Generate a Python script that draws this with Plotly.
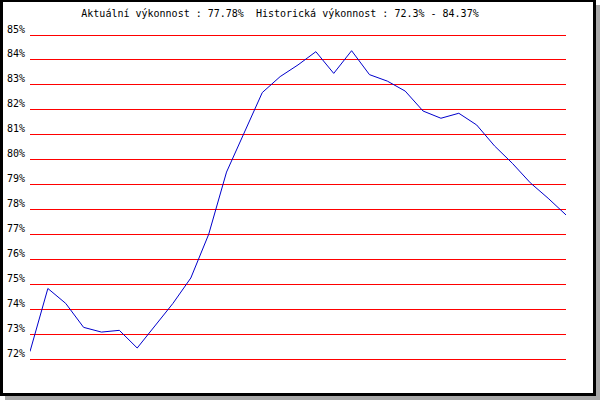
import plotly.graph_objects as go

# ---- data ----
periods = list(range(31))
performance = [72.3, 74.83, 74.23, 73.27, 73.08, 73.15, 72.44, 73.35, 74.23, 75.25,
               77.0, 79.5, 81.11, 82.69, 83.33, 83.8, 84.33, 83.46, 84.37, 83.41,
               83.15, 82.75, 81.95, 81.66, 81.86, 81.39, 80.55, 79.85, 79.07, 78.45,
               77.78]
y_ticks = [72, 73, 74, 75, 76, 77, 78, 79, 80, 81, 82, 83, 84, 85]
title_text = "Aktuální výkonnost : 77.78%  Historická výkonnost : 72.3% - 84.37%"

# ---- layout geometry (pixels) ----
W, H = 600, 400
L, R = 30, 566          # plot area left/right
T, B = 22, 372          # plot area top/bottom
y85, y72 = 35, 359
ppu = (y72 - y85) / 13.0
y_top = 85 + (y85 - T) / ppu
y_bot = 72 - (B - y72) / ppu


def px(x):
    return (x - L) / (R - L)


def py(y):
    return (B - y) / (B - T)


FONT = "DejaVu Sans Mono"

fig = go.Figure()
fig.add_trace(go.Scatter(
    x=periods, y=performance, mode="lines",
    line=dict(color="#0000cc", width=1),
    hoverinfo="skip", showlegend=False,
))

shapes = [
    # shadow
    dict(type="rect", xref="paper", yref="paper", layer="below",
         x0=px(5), x1=px(600), y0=py(400), y1=py(5),
         fillcolor="#a8a8a8", line=dict(width=0)),
    # black frame
    dict(type="rect", xref="paper", yref="paper", layer="below",
         x0=px(0), x1=px(596), y0=py(396), y1=py(0),
         fillcolor="#000000", line=dict(width=0)),
    # white inner
    dict(type="rect", xref="paper", yref="paper", layer="below",
         x0=px(3), x1=px(593), y0=py(393), y1=py(2),
         fillcolor="#ffffff", line=dict(width=0)),
]

fig.update_layout(
    width=W, height=H,
    margin=dict(l=L, r=W - R, t=T, b=H - B, pad=0, autoexpand=False),
    paper_bgcolor="#ffffff",
    plot_bgcolor="rgba(0,0,0,0)",
    shapes=shapes,
    title=dict(text=title_text, x=280 / W, xanchor="center", xref="container",
               y=1 - 13 / H, yanchor="middle", yref="container", automargin=False,
               font=dict(family=FONT, size=10, color="#000000")),
    xaxis=dict(range=[0, 30], showgrid=False, zeroline=False, showline=False,
               showticklabels=False, ticks="", automargin=False),
    yaxis=dict(range=[y_bot, y_top], tickvals=y_ticks,
               ticktext=[f"{v}%" for v in y_ticks],
               showgrid=True, gridcolor="#ff0000", gridwidth=1,
               zeroline=False, showline=False, ticks="", automargin=False,
               ticklabelstandoff=4, ticklabelshift=-6,
               tickfont=dict(family=FONT, size=10, color="#000000")),
)

fig.write_html(
    "out.html",
    config={"displayModeBar": False},
    post_script="document.body.style.margin='0';document.body.style.overflow='hidden';",
)
